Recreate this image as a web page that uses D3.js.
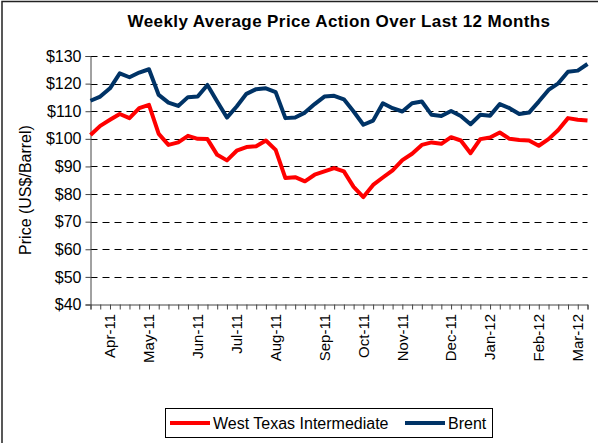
<!DOCTYPE html>
<html>
<head>
<meta charset="utf-8">
<script src="https://cdn.jsdelivr.net/npm/d3@7"></script>
<style>
  body { margin: 0; background: #fff; }
  svg text { font-family: "Liberation Sans", Arial, sans-serif; fill: #000; }
</style>
</head>
<body>
<div id="chart"></div>
<script>
// weekly averages, Mar-11 .. Mar-12 (52 weeks)
var wti = [101.4, 104.7, 106.9, 109.0, 107.5, 111.1, 112.3, 101.8, 97.8, 98.7,
  101.1, 100.0, 99.9, 94.2, 92.2, 95.7, 97.0, 97.3, 99.4, 96.0,
  85.8, 86.1, 84.6, 87.0, 88.2, 89.4, 88.2, 82.6, 78.9, 83.3,
  86.0, 88.6, 92.3, 94.6, 97.8, 98.7, 98.2, 100.6, 99.4, 94.8,
  99.9, 100.5, 102.3, 100.0, 99.6, 99.4, 97.5, 99.9, 103.2, 107.5,
  106.9, 106.6];
var brent = [113.8, 115.3, 118.3, 123.7, 122.3, 124.0, 125.2, 115.9, 113.1, 111.9,
  115.1, 115.3, 119.5, 113.5, 107.7, 111.7, 116.3, 118.0, 118.3, 116.9,
  107.5, 107.7, 109.5, 112.6, 115.3, 115.6, 114.3, 109.9, 105.1, 106.6,
  112.9, 111.1, 109.9, 112.9, 113.5, 108.7, 108.3, 110.1, 108.3, 105.3,
  108.7, 108.4, 112.6, 111.1, 109.0, 109.5, 113.5, 117.7, 120.1, 124.3,
  124.7, 127.1];
var monthLabels = ['Apr-11', 'May-11', 'Jun-11', 'Jul-11', 'Aug-11', 'Sep-11',
  'Oct-11', 'Nov-11', 'Dec-11', 'Jan-12', 'Feb-12', 'Mar-12'];
var monthWeeks = [2, 6, 11, 15, 19, 24, 28, 32, 37, 41, 46, 50];
var yTicks = [40, 50, 60, 70, 80, 90, 100, 110, 120, 130];

var width = 598, height = 443;
var svg = d3.select('#chart').append('svg')
  .attr('width', width)
  .attr('height', height);

// outer frame (only top and left edges fall inside the picture)
svg.append('rect')
  .attr('x', 2).attr('y', 1.5)
  .attr('width', 700).attr('height', 600)
  .attr('fill', 'none').attr('stroke', '#222').attr('stroke-width', 1.5);

var weeks = d3.range(wti.length);
var x = d3.scalePoint().domain(weeks).range([90.5, 587.5]);
var y = d3.scaleLinear().domain([40, 130]).range([304.5, 56]);

svg.append('text')
  .attr('x', 339).attr('y', 27)
  .attr('text-anchor', 'middle')
  .style('font-size', '17px').style('font-weight', 'bold')
  .style('letter-spacing', '0.4px')
  .text('Weekly Average Price Action Over Last 12 Months');

// gridlines
svg.append('g').selectAll('line')
  .data(yTicks.slice(1))
  .enter().append('line')
  .attr('x1', 90.5).attr('x2', 587.5)
  .attr('y1', function(d) { return Math.round(y(d)) + 0.5; })
  .attr('y2', function(d) { return Math.round(y(d)) + 0.5; })
  .attr('stroke', '#000').attr('stroke-width', 1)
  .attr('stroke-dasharray', '7,5');

// y axis
var yAxis = d3.axisLeft(y)
  .tickValues(yTicks)
  .tickSize(5)
  .tickPadding(4)
  .tickFormat(function(d) { return '$' + d; });
var gy = svg.append('g').attr('transform', 'translate(90.5,0)').call(yAxis);
gy.select('.domain').attr('stroke', '#444');
gy.selectAll('.tick line').attr('stroke', '#444');
gy.selectAll('.tick text').style('font-size', '16px');

// x axis
var xAxis = d3.axisBottom(x).tickSize(5).tickFormat('');
var gx = svg.append('g').attr('transform', 'translate(0,304.5)').call(xAxis);
gx.select('.domain').attr('stroke', '#444');
gx.selectAll('.tick line').attr('stroke', '#444');

svg.append('g').selectAll('text')
  .data(monthLabels)
  .enter().append('text')
  .attr('transform', function(d, i) {
    return 'translate(' + x(monthWeeks[i]) + ',314) rotate(-90)';
  })
  .attr('text-anchor', 'end')
  .attr('dy', '0.35em')
  .style('font-size', '15px')
  .text(function(d) { return d; });

svg.append('text')
  .attr('transform', 'translate(31,190) rotate(-90)')
  .attr('text-anchor', 'middle')
  .style('font-size', '16px')
  .text('Price (US$/Barrel)');

var line = d3.line()
  .x(function(d, i) { return x(i); })
  .y(function(d) { return y(d); });

svg.append('path').datum(wti)
  .attr('d', line)
  .attr('fill', 'none').attr('stroke', '#ff0000').attr('stroke-width', 4)
  .attr('stroke-linejoin', 'round');
svg.append('path').datum(brent)
  .attr('d', line)
  .attr('fill', 'none').attr('stroke', '#003366').attr('stroke-width', 4)
  .attr('stroke-linejoin', 'round');

// legend
var legend = svg.append('g');
legend.append('rect')
  .attr('x', 165.5).attr('y', 408.5).attr('width', 327).attr('height', 29)
  .attr('fill', '#fff').attr('stroke', '#000');
var items = [{ name: 'West Texas Intermediate', color: '#ff0000', x: 170 },
  { name: 'Brent', color: '#003366', x: 405 }];
items.forEach(function(it) {
  legend.append('line')
    .attr('x1', it.x).attr('x2', it.x + 40)
    .attr('y1', 423).attr('y2', 423)
    .attr('stroke', it.color).attr('stroke-width', 4);
  legend.append('text')
    .attr('x', it.x + 43).attr('y', 428.5)
    .style('font-size', '16px')
    .text(it.name);
});
</script>
</body>
</html>
